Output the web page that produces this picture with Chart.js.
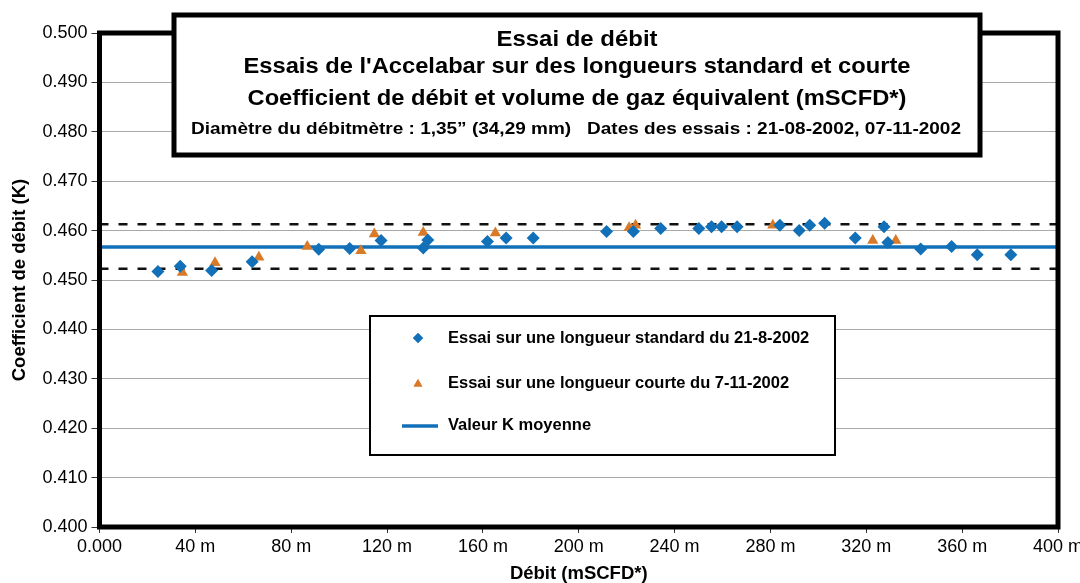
<!DOCTYPE html>
<html>
<head>
<meta charset="utf-8">
<script src="https://cdn.jsdelivr.net/npm/chart.js@4.4.1/dist/chart.umd.min.js"></script>
<style>
  body { margin: 0; background: #fff; }
  #chart { display: block; }
</style>
</head>
<body>
<canvas id="chart" width="1080" height="583"></canvas>
<script>
// data
const stdDebit = [24.4, 33.7, 46.8, 63.7, 91.5, 104.4, 117.5, 135.1, 137.0, 161.9, 169.7, 181.0, 211.6, 222.8, 234.2, 250.1, 255.4, 259.6, 266.1, 283.9, 292.0, 296.4, 302.6, 315.4, 327.4, 329.0, 342.7, 355.6, 366.3, 380.3];
const stdK = [0.4517, 0.4528, 0.4519, 0.4537, 0.4562, 0.4564, 0.4580, 0.4565, 0.4581, 0.4578, 0.4585, 0.4585, 0.4598, 0.4598, 0.4604, 0.4604, 0.4608, 0.4608, 0.4608, 0.4611, 0.4600, 0.4611, 0.4615, 0.4585, 0.4608, 0.4576, 0.4563, 0.4568, 0.4551, 0.4551];
const courteDebit = [34.6, 48.2, 66.5, 86.7, 109.1, 114.7, 135.1, 165.2, 221.0, 223.7, 281.0, 322.7, 332.3];
const courteK = [0.4515, 0.4535, 0.4546, 0.4568, 0.4559, 0.4593, 0.4596, 0.4595, 0.4606, 0.4611, 0.4611, 0.4580, 0.4580];
const kMoyen = 0.4567;
const kHaut = 0.4613;
const kBas = 0.4523;
const debitRange = [0, 400];

const titleLines = [
  "Essai de débit",
  "Essais de l'Accelabar sur des longueurs standard et courte",
  "Coefficient de débit et volume de gaz équivalent (mSCFD*)",
  "Diamètre du débitmètre : 1,35” (34,29 mm)   Dates des essais : 21-08-2002, 07-11-2002"
];
const legendLabels = [
  "Essai sur une longueur standard du 21-8-2002",
  "Essai sur une longueur courte du 7-11-2002",
  "Valeur K moyenne"
];

const BLUE = '#1170b8';
const ORANGE = '#d97a28';
const FONT = '"Liberation Sans", Arial, sans-serif';

function pts(xs, ys) { return xs.map((x, i) => ({x: x, y: ys[i]})); }
function hline(v) { return debitRange.map(x => ({x: x, y: v})); }

function fitText(ctx, txt, cx, cy, w, size) {
  ctx.font = 'bold ' + size + 'px ' + FONT;
  let m = ctx.measureText(txt).width;
  ctx.save();
  ctx.translate(cx, cy);
  ctx.scale(w / m, 1);
  ctx.textAlign = 'center';
  ctx.textBaseline = 'middle';
  ctx.fillStyle = '#000';
  ctx.fillText(txt, 0, 0);
  ctx.restore();
}

const decor = {
  id: 'decor',
  afterDraw(chart) {
    const ctx = chart.ctx;
    const a = chart.chartArea;
    ctx.save();
    // thick frame round the plot
    ctx.strokeStyle = '#000';
    ctx.lineWidth = 5;
    ctx.strokeRect(a.left, a.top, a.right - a.left, a.bottom - a.top);

    // title box
    ctx.fillStyle = '#fff';
    ctx.fillRect(174, 15, 806, 140);
    ctx.lineWidth = 5;
    ctx.strokeRect(174, 15, 806, 140);
    fitText(ctx, titleLines[0], 577, 40, 161, 22);
    fitText(ctx, titleLines[1], 577, 67, 667, 22);
    fitText(ctx, titleLines[2], 577, 99, 659, 22);
    fitText(ctx, titleLines[3], 576, 130, 770, 16);

    // legend box
    ctx.fillStyle = '#fff';
    ctx.fillRect(370, 316, 465, 139);
    ctx.lineWidth = 2;
    ctx.strokeRect(370, 316, 465, 139);
    const ds = chart.data.datasets;
    ctx.beginPath();
    ctx.fillStyle = ds[0].backgroundColor;
    Chart.helpers.drawPoint(ctx, {pointStyle: 'rectRot', radius: 5, borderWidth: 0}, 418, 338);
    ctx.fill();
    ctx.beginPath();
    ctx.fillStyle = ds[1].backgroundColor;
    Chart.helpers.drawPoint(ctx, {pointStyle: 'triangle', radius: 5, borderWidth: 0}, 418, 384);
    ctx.fill();
    ctx.beginPath();
    ctx.strokeStyle = ds[2].borderColor;
    ctx.lineWidth = 3.5;
    ctx.moveTo(402, 426);
    ctx.lineTo(438, 426);
    ctx.stroke();
    ctx.fillStyle = '#000';
    ctx.font = 'bold 16.5px ' + FONT;
    ctx.textAlign = 'left';
    ctx.textBaseline = 'middle';
    ctx.fillText(legendLabels[0], 448, 338);
    ctx.fillText(legendLabels[1], 448, 383);
    ctx.fillText(legendLabels[2], 448, 425);
    ctx.restore();
  }
};

new Chart(document.getElementById('chart'), {
  type: 'scatter',
  data: {
    datasets: [
      {
        label: legendLabels[0],
        data: pts(stdDebit, stdK),
        pointStyle: 'rectRot',
        pointRadius: 6.5,
        pointHoverRadius: 6.5,
        backgroundColor: BLUE,
        borderColor: BLUE,
        borderWidth: 0
      },
      {
        label: legendLabels[1],
        data: pts(courteDebit, courteK),
        pointStyle: 'triangle',
        pointRadius: 6.5,
        pointHoverRadius: 6.5,
        backgroundColor: ORANGE,
        borderColor: ORANGE,
        borderWidth: 0
      },
      {
        type: 'line',
        label: legendLabels[2],
        data: hline(kMoyen),
        borderColor: BLUE,
        borderWidth: 3.5,
        pointRadius: 0,
        fill: false
      },
      {
        type: 'line',
        label: 'limite haute',
        data: hline(kHaut),
        borderColor: '#111',
        borderWidth: 2.5,
        borderDash: [9, 10],
        pointRadius: 0,
        fill: false
      },
      {
        type: 'line',
        label: 'limite basse',
        data: hline(kBas),
        borderColor: '#111',
        borderWidth: 2.5,
        borderDash: [9, 10],
        pointRadius: 0,
        fill: false
      }
    ]
  },
  options: {
    responsive: false,
    animation: false,
    layout: { padding: { top: 33, right: 22, left: 0, bottom: 0 } },
    plugins: {
      legend: { display: false },
      tooltip: { enabled: false }
    },
    scales: {
      x: {
        type: 'linear',
        min: 0,
        max: 400,
        afterFit: s => { s.height = 56; s.paddingLeft = 0; s.paddingRight = 0; },
        border: { display: false },
        grid: { drawOnChartArea: false, tickColor: '#333', tickLength: 6 },
        ticks: {
          stepSize: 40,
          padding: 3,
          color: '#000',
          font: { family: FONT, size: 18 },
          maxRotation: 0,
          callback: v => v === 0 ? '0.000' : v + ' m'
        },
        title: {
          display: true,
          text: 'Débit (mSCFD*)',
          color: '#000',
          font: { family: FONT, size: 18.5, weight: 'bold', lineHeight: 1 },
          padding: 0
        }
      },
      y: {
        min: 0.4,
        max: 0.5,
        afterFit: s => { s.width = 99.5; },
        border: { display: false },
        grid: { color: '#a8a8a8', lineWidth: 1, tickColor: '#333', tickLength: 8 },
        ticks: {
          stepSize: 0.01,
          padding: 4,
          color: '#000',
          font: { family: FONT, size: 18 },
          callback: v => v.toFixed(3)
        },
        title: {
          display: true,
          text: 'Coefficient de débit (K)',
          color: '#000',
          font: { family: FONT, size: 18.5, weight: 'bold', lineHeight: 1 },
          padding: { top: 11, bottom: 0 }
        }
      }
    }
  },
  plugins: [decor]
});
</script>
</body>
</html>
